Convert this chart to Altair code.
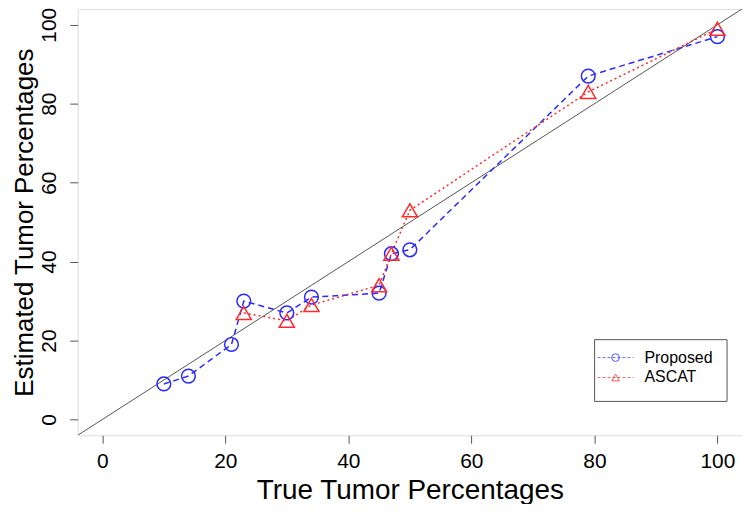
import altair as alt
import pandas as pd

# Data
prop_x = [10, 14, 21, 23, 30, 34, 45, 47, 50, 79, 100]
prop_y = [9, 11, 19, 30, 27, 31, 32, 42, 43, 87, 97]
ascat_x = [23, 30, 34, 45, 47, 50, 79, 100]
ascat_y = [27, 25, 29, 34, 42, 53, 83, 99]
series = ["Proposed", "ASCAT"]
ticks = [0, 20, 40, 60, 80, 100]
diag = [-4, 104]

FONT = "Liberation Sans"
BLUE = "#2a2aff"
RED = "#ff2a2a"

prop_df = pd.DataFrame({"x": prop_x, "y": prop_y, "s": "Proposed"})
ascat_df = pd.DataFrame({"x": ascat_x, "y": ascat_y, "s": "ASCAT"})
diag_df = pd.DataFrame({"x": [diag[0]], "y": [diag[0]], "x2": [diag[1]], "y2": [diag[1]]})

xs = alt.Scale(domain=diag, nice=False, zero=False)
ys = alt.Scale(domain=diag, nice=False, zero=False)

xax = alt.Axis(values=ticks, title="True Tumor Percentages", grid=False, domain=False,
               tickSize=8, tickColor="#555555", labelFontSize=21, labelFont=FONT,
               labelColor="black", titleFont=FONT, titleFontSize=28, titleFontWeight="normal",
               titleColor="black", labelPadding=7, titlePadding=5)
yax = alt.Axis(values=ticks, title="Estimated Tumor Percentages", grid=False, domain=False,
               tickSize=8, tickColor="#555555", labelFontSize=21, labelFont=FONT,
               labelColor="black", labelAngle=-90, labelAlign="center", labelBaseline="bottom",
               labelPadding=10, titleFont=FONT, titleFontSize=26, titleFontWeight="normal",
               titleColor="black", titlePadding=1)

diag_layer = alt.Chart(diag_df).mark_rule(color="#555555", strokeWidth=1, clip=True).encode(
    x=alt.X("x:Q", scale=xs, axis=xax), y=alt.Y("y:Q", scale=ys, axis=yax),
    x2="x2:Q", y2="y2:Q")

prop_line = alt.Chart(prop_df).mark_line(color=BLUE, strokeDash=[6, 4], strokeWidth=1.5).encode(
    x=alt.X("x:Q", scale=xs), y=alt.Y("y:Q", scale=ys))
prop_pts = alt.Chart(prop_df).mark_point(shape="circle", filled=False, color=BLUE, size=190,
                                         strokeWidth=1.5, opacity=1).encode(
    x=alt.X("x:Q", scale=xs), y=alt.Y("y:Q", scale=ys))
ascat_line = alt.Chart(ascat_df).mark_line(color=RED, strokeDash=[2, 3], strokeWidth=1.5).encode(
    x=alt.X("x:Q", scale=xs), y=alt.Y("y:Q", scale=ys))
ascat_pts = alt.Chart(ascat_df).mark_point(shape="triangle-up", filled=False, color=RED, size=230,
                                           strokeWidth=1.5, opacity=1).encode(
    x=alt.X("x:Q", scale=xs), y=alt.Y("y:Q", scale=ys))

# Manual legend (pixel positions in the plot area)
leg_box = alt.Chart(pd.DataFrame({"a": [0]})).mark_rect(fill="white", stroke="#555555", strokeWidth=1).encode(
    x=alt.value(519), x2=alt.value(652), y=alt.value(332), y2=alt.value(394))
leg_items = []
colors = [BLUE, RED]
shapes = ["circle", "triangle-up"]
for i, name in enumerate(series):
    yy = 350 + 20 * i
    d = pd.DataFrame({"s": [name]})
    leg_items.append(alt.Chart(d).mark_rule(color=colors[i], strokeDash=[3, 2], strokeWidth=1, opacity=0.7).encode(
        x=alt.value(522), x2=alt.value(558), y=alt.value(yy)))
    leg_items.append(alt.Chart(d).mark_point(shape=shapes[i], filled=False, color=colors[i], size=60,
                                             strokeWidth=1, opacity=0.8).encode(
        x=alt.value(540), y=alt.value(yy)))
    leg_items.append(alt.Chart(d).mark_text(align="left", baseline="middle", font=FONT, fontSize=16,
                                            color="black").encode(
        x=alt.value(569), y=alt.value(yy), text="s:N"))

chart = alt.layer(diag_layer, prop_line, ascat_line, prop_pts, ascat_pts, leg_box, *leg_items).properties(
    width=667, height=428,
    autosize=alt.AutoSizeParams(type="none"),
    padding={"left": 70, "top": 0, "right": 0, "bottom": 68},
).configure_view(stroke="#555555", strokeWidth=1).configure(background="white")

chart.save("out.html", embed_options={"renderer": "svg", "actions": False})
